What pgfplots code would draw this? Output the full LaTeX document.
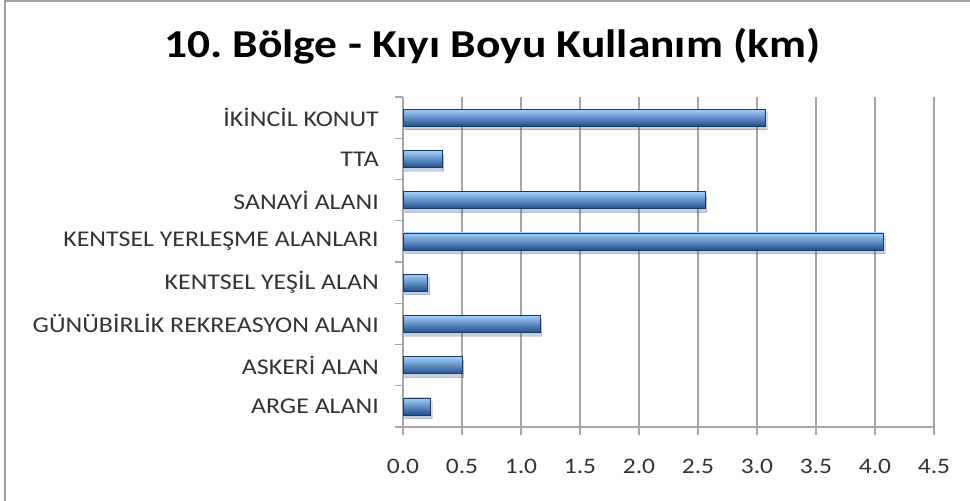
\documentclass[border=0pt]{standalone}
\usepackage{fontspec}
\setmainfont{Carlito}[FakeStretch=1.15]
\usepackage{pgfplots}
\pgfplotsset{compat=1.18}
\usetikzlibrary{shadows}
\frenchspacing
\definecolor{gridgray}{HTML}{A6A6A6}
\definecolor{framegray}{HTML}{A0A0A0}
\definecolor{bartop}{HTML}{A2CFFA}
\definecolor{barmid}{HTML}{4E8DDD}
\definecolor{barbot}{HTML}{214F8F}
\definecolor{baredge}{HTML}{1B3A66}
\pgfplotsset{
    cyl/.style={draw=baredge, line width=0.4pt, bar shift=0pt,
        top color=bartop, middle color=barmid, bottom color=barbot,
        drop shadow={opacity=0.18, shadow xshift=1pt, shadow yshift=-2pt}},
}
\begin{document}
\begin{tikzpicture}
% 1px of the reference = 0.02cm
\path[use as bounding box] (0,0) rectangle (19.4cm,-10.02cm);
\draw[framegray, line width=1.2pt] (0.1cm,-10.02cm) -- (0.1cm,-0.02cm) -- (19.4cm,-0.02cm);
\begin{axis}[
    at={(8.06cm,-8.54cm)}, anchor=south west,
    scale only axis,
    width=10.62cm, height=6.6cm,
    xmin=0, xmax=4.5,
    ymin=-0.5, ymax=7.5,
    xtick={0,0.5,...,4.5},
    xticklabel={\pgfmathprintnumber[fixed,fixed zerofill,precision=1]{\tick}},
    ytick={-0.5,0.5,...,7.5},
    yticklabels={ARGE ALANI,ASKERİ ALAN,GÜNÜBİRLİK REKREASYON ALANI,KENTSEL YEŞİL ALAN,KENTSEL YERLEŞME ALANLARI,SANAYİ ALANI,TTA,İKİNCİL KONUT,},
    yticklabel style={yshift=0.4125cm, xshift=-0.2cm, font=\fontsize{12.8}{14}\selectfont, text=black!80},
    xticklabel style={yshift=-0.36cm, font=\fontsize{12.6}{14}\selectfont, text=black!80},
    /pgf/number format/assume math mode=true,
    axis x line*=bottom, axis y line*=left,
    axis line style={gridgray, line width=0.8pt},
    tick style={gridgray, line width=0.8pt},
    tick align=outside,
    major tick length=0.16cm,
    xmajorgrids=true,
    grid style={gridgray, line width=0.8pt},
    xbar, bar width=0.34cm,
    title={10. Bölge - Kıyı Boyu Kullanım (km)},
    title style={at={(0.168,1)}, anchor=south, yshift=0.33cm,
        font=\bfseries\fontsize{22.5}{26}\selectfont},
]
\addplot[cyl] coordinates {(0.23,0)};
\addplot[cyl] coordinates {(0.50,1)};
\addplot[cyl] coordinates {(1.16,2)};
\addplot[cyl] coordinates {(0.21,3)};
\addplot[cyl] coordinates {(4.07,4)};
\addplot[cyl] coordinates {(2.56,5)};
\addplot[cyl] coordinates {(0.33,6)};
\addplot[cyl] coordinates {(3.07,7)};
\end{axis}
\end{tikzpicture}
\end{document}
